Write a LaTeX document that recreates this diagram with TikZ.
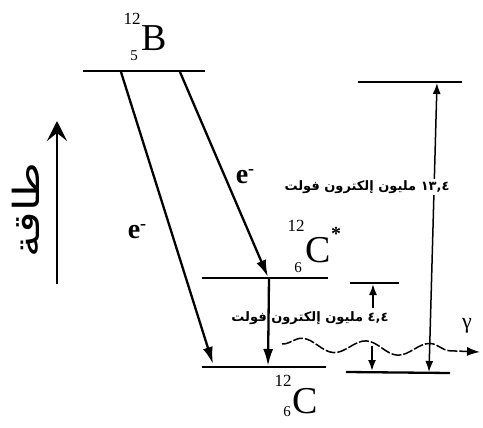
\documentclass[tikz,border=0pt]{standalone}
\usepackage{fontspec}
\setmainfont{Liberation Serif}
\newfontfamily\arabicfont[Script=Arabic]{DejaVu Sans}
\TeXXeTstate=1
\usetikzlibrary{arrows.meta,decorations.pathmorphing}
\begin{document}
\begin{tikzpicture}[x=1pt,y=-1pt,
  level/.style={line width=2.8pt},
  trans/.style={line width=2.3pt,-{Latex[length=17pt,width=10pt]}},
  small/.style={line width=1.8pt,-{Latex[length=11pt,width=8pt]}},
  big/.style={line width=1.5pt,{Latex[length=11pt,width=8pt]}-{Latex[length=11pt,width=8pt]}},
  elem/.style={inner sep=0pt,font=\fontsize{38}{38}\selectfont},
  sup/.style={inner sep=0pt,font=\fontsize{17}{17}\selectfont},
  sub/.style={inner sep=0pt,font=\fontsize{15}{15}\selectfont},
  elab/.style={inner sep=0pt,font=\bfseries\fontsize{28}{28}\selectfont},
  arlab/.style={inner sep=1pt,font=\arabicfont\bfseries\fontsize{13}{13}\selectfont},
  wave/.style={line width=1.5pt,dash pattern=on 10pt off 2pt,decorate,
    decoration={snake,segment length=64pt,amplitude=6.5pt,post length=14pt},
    -{Latex[length=13pt,width=9pt]}}]
\useasboundingbox (0,0) rectangle (483,428);

% energy levels
\coordinate (Bl) at (83,71);   \coordinate (Br) at (205,71);
\coordinate (Sl) at (202,278); \coordinate (Sr) at (328,278);
\coordinate (Gl) at (202,367); \coordinate (Gr) at (326,367);
\draw[level] (Bl) -- (Br);
\draw[level] (Sl) -- (Sr);
\draw[level] (Gl) -- (Gr);

% beta transitions
\coordinate (a1) at (121,72);  \coordinate (a1e) at (213,364);
\coordinate (a2) at (180,72);  \coordinate (a2e) at (268,277);
\coordinate (g1) at (269,278); \coordinate (g1e) at (268,366);
\draw[trans] (a1) -- (a1e);
\draw[trans] (a2) -- (a2e);
\draw[trans] (g1) -- (g1e);

% labels of nuclei
\node[elem] (B) at (154,38) {B};
\node[sup] (B12) at (132,19) {12};
\node[sub] (B5) at (134,56) {5};
\node[elem] (Cs) at (318,250) {C};
\node[sup,font=\bfseries\fontsize{20}{20}\selectfont] (Cst) at (336,234) {*};
\node[sup] (Cs12) at (296,226) {12};
\node[sub] (Cs6) at (298,268) {6};
\node[elem] (C) at (305,401) {C};
\node[sup] (C12) at (283,381) {12};
\node[sub] (C6) at (287,412) {6};

% electrons
\node[elab] (e1) at (137,232) {e\raisebox{9pt}{\fontsize{18}{18}\selectfont -}};
\node[elab] (e2) at (245,177) {e\raisebox{9pt}{\fontsize{18}{18}\selectfont -}};

% right-hand energy scale
\coordinate (Tl) at (358,82);  \coordinate (Tr) at (462,82);
\coordinate (Ml) at (350,283); \coordinate (Mr) at (399,283);
\coordinate (Ll) at (346,372); \coordinate (Lr) at (450,373);
\draw[level,line width=2.3pt] (Tl) -- (Tr);
\draw[level,line width=2.3pt] (Ml) -- (Mr);
\draw[level,line width=2.3pt] (Ll) -- (Lr);
\coordinate (bt) at (437,83); \coordinate (bb) at (429,372);
\draw[big] (bt) -- (bb);
\coordinate (up0) at (373,308); \coordinate (up1) at (373,284);
\draw[small] (up0) -- (up1);
\coordinate (dn0) at (372,346); \coordinate (dn1) at (372,371);
\draw[small] (dn0) -- (dn1);

% gamma wave
\coordinate (w0) at (282,344); \coordinate (w1) at (480,352);
\draw[wave] (w0) -- (w1);
\node[inner sep=0pt,font=\fontsize{22}{22}\selectfont] (gam) at (467,326) {γ};

% energy texts
\node[arlab,fill=white] (E13) at (367,187) {\beginR\beginL ١٣,٤\endL{} مليون إلكترون فولت\endR};
\node[arlab] (E4) at (310,318) {\beginR\beginL ٤,٤\endL{} مليون إلكترون فولت\endR};

% energy axis
\coordinate (ax0) at (57,284); \coordinate (ax1) at (57,121);
\draw[line width=2pt,-{Stealth[length=20pt,width=20pt,inset=8pt]}] (ax0) -- (ax1);
\node[inner sep=0pt,rotate=90,font=\arabicfont\fontsize{36}{36}\selectfont] (en) at (26,210) {\scalebox{1.25}[1]{\beginR طاقة\endR}};
\end{tikzpicture}
\end{document}
